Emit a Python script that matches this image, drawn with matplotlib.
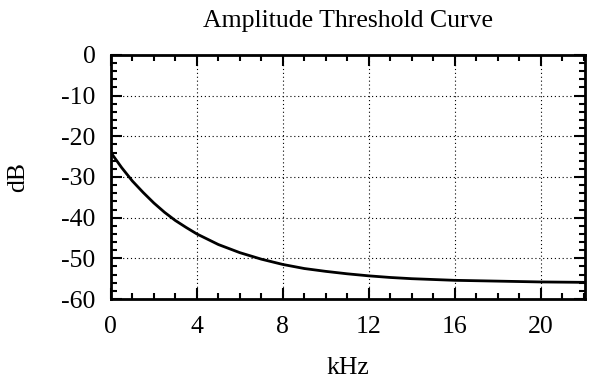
import matplotlib
matplotlib.use('Agg')
import matplotlib.pyplot as plt
from matplotlib.ticker import MultipleLocator

# threshold curve (kHz, dB)
khz = [0, 0.5, 1, 1.5, 2, 2.5, 3, 3.5, 4, 5, 6, 7, 8, 9, 10, 11, 12,
       13, 14, 16, 18, 20, 22.05]
db = [-24.0, -27.7, -31.0, -33.8, -36.4, -38.7, -40.7, -42.4, -44.0,
      -46.6, -48.6, -50.2, -51.5, -52.5, -53.2, -53.8, -54.3, -54.7,
      -55.0, -55.4, -55.6, -55.8, -55.9]
xticks = [0, 4, 8, 12, 16, 20]
yticks = [0, -10, -20, -30, -40, -50, -60]

plt.rcParams['font.family'] = ['Liberation Serif', 'DejaVu Serif']
plt.rcParams['font.size'] = 18.5
plt.rcParams['axes.unicode_minus'] = False

fig = plt.figure(figsize=(5.9, 3.79), dpi=100)
ax = fig.add_axes([0.188, 0.211, 0.803, 0.644])

ax.plot(khz, db, color='black', lw=2)

ax.set_xlim(0, 22.05)
ax.set_ylim(-60, 0)
ax.set_xticks(xticks)
ax.set_yticks(yticks)
ax.xaxis.set_minor_locator(MultipleLocator(1))
ax.yaxis.set_minor_locator(MultipleLocator(2))
ax.grid(True, which='major', color='black', linestyle=(0, (1, 2.5)), lw=0.8)

ax.tick_params(which='both', direction='in', top=True, right=True,
               width=1.5, color='black')
ax.tick_params(axis='x', pad=12)
ax.tick_params(axis='y', pad=11)
ax.tick_params(which='major', length=8)
ax.tick_params(which='minor', length=4)
for s in ax.spines.values():
    s.set_linewidth(2)

ax.set_title('Amplitude Threshold Curve', fontsize=18.5, pad=20)
ax.set_xlabel('kHz', labelpad=14)
ax.set_ylabel('dB', labelpad=23)

plt.savefig('out.png', dpi=100)
